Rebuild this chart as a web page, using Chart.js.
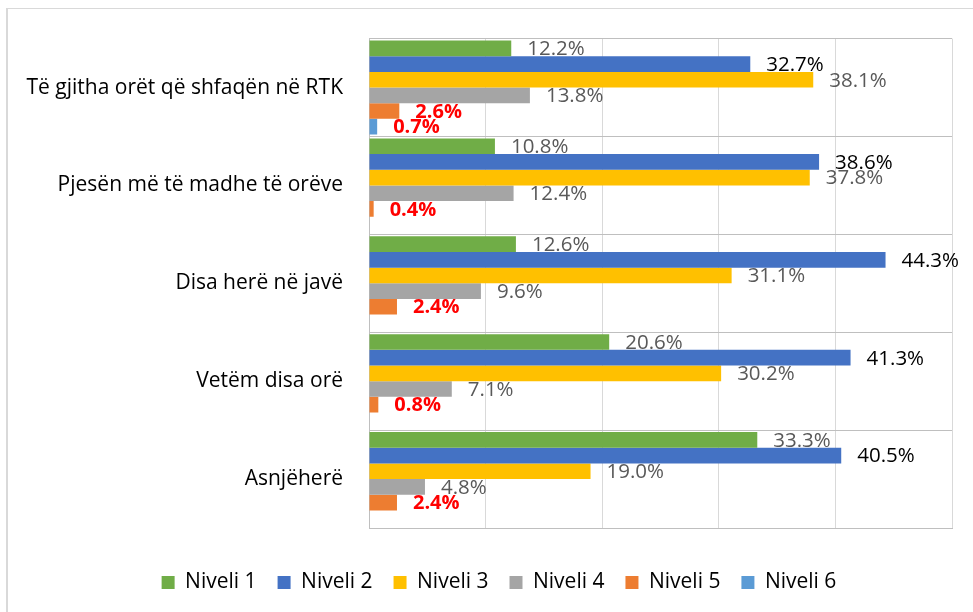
<!DOCTYPE html>
<html>
<head>
<meta charset="utf-8">
<script src="https://cdn.jsdelivr.net/npm/chart.js@4"></script>
<style>
  body { margin: 0; background: #fff; }
  #wrap { position: relative; width: 973px; height: 612px; overflow: hidden; }
  #frame { position: absolute; left: 6px; top: 8px; width: 1000px; height: 700px;
           border-left: 2px solid #d9d9d9; border-top: 1px solid #d9d9d9; }
  canvas { position: absolute; left: 0; top: 0; }
</style>
</head>
<body>
<div id="wrap">
  <div id="frame"></div>
  <canvas id="chart" width="973" height="612"></canvas>
</div>
<script>
// ================= DATA =================
const categories = [
  "Të gjitha orët që shfaqën në RTK",
  "Pjesën më të madhe të orëve",
  "Disa herë në javë",
  "Vetëm disa orë",
  "Asnjëherë"
];
const seriesNames = ["Niveli 1", "Niveli 2", "Niveli 3", "Niveli 4", "Niveli 5", "Niveli 6"];
const niveli1 = [12.2, 10.8, 12.6, 20.6, 33.3];
const niveli2 = [32.7, 38.6, 44.3, 41.3, 40.5];
const niveli3 = [38.1, 37.8, 31.1, 30.2, 19.0];
const niveli4 = [13.8, 12.4, 9.6, 7.1, 4.8];
const niveli5 = [2.6, 0.4, 2.4, 0.8, 2.4];
const niveli6 = [0.7, null, null, null, null];
const xMax = 50;
const xStep = 10;

const colors = ["#70ad47", "#4472c4", "#ffc000", "#a5a5a5", "#ed7d31", "#5b9bd5"];
const labelColors = ["#595959", "#000000", "#595959", "#595959", "#ff0000", "#ff0000"];
const labelBold = [false, false, false, false, true, true];

const FONT = "'Open Sans', 'Noto Sans', sans-serif";

// ================= VALUE LABELS =================
const valueLabels = {
  id: "valueLabels",
  afterDatasetsDraw(chart) {
    const ctx = chart.ctx;
    ctx.save();
    ctx.textBaseline = "middle";
    ctx.textAlign = "left";
    chart.data.datasets.forEach((ds, i) => {
      const meta = chart.getDatasetMeta(i);
      ctx.font = labelBold[i] ? "bold 20px " + FONT : "20.5px " + FONT;
      ctx.fillStyle = labelColors[i];
      meta.data.forEach((bar, j) => {
        const v = ds.data[j];
        if (v == null) return;
        ctx.fillText(v.toFixed(1) + "%", bar.x + 16, bar.y + 1);
      });
    });
    ctx.restore();
  }
};

const allSeries = [niveli1, niveli2, niveli3, niveli4, niveli5, niveli6];

new Chart(document.getElementById("chart"), {
  type: "bar",
  data: {
    labels: categories,
    datasets: allSeries.map((d, i) => ({
      label: seriesNames[i],
      data: d,
      backgroundColor: colors[i],
      borderWidth: 0,
      categoryPercentage: 0.96,
      barPercentage: 1
    }))
  },
  options: {
    indexAxis: "y",
    responsive: false,
    animation: false,
    devicePixelRatio: 1,
    layout: { padding: { left: 25, right: 0, top: 36, bottom: 9 } },
    plugins: {
      legend: {
        position: "bottom",
        labels: {
          boxWidth: 13,
          boxHeight: 13,
          padding: 21,
          color: "#000",
          font: { family: FONT, size: 21 }
        }
      },
      tooltip: { enabled: false }
    },
    scales: {
      x: {
        min: 0,
        max: xMax,
        ticks: { display: false, stepSize: xStep },
        grid: { color: "#d9d9d9", drawTicks: false },
        border: { display: true, color: "#bfbfbf" },
        afterFit: s => { s.height = 23; }
      },
      y: {
        grid: { color: "#bfbfbf", drawTicks: false, offset: true },
        border: { color: "#bfbfbf" },
        ticks: { color: "#000", padding: 26, font: { family: FONT, size: 21 } },
        afterFit: s => { s.width = 344; }
      },
      yRight: {
        position: "right",
        type: "category",
        labels: categories,
        grid: { display: false },
        border: { display: false },
        ticks: { display: false },
        afterFit: s => { s.width = 21; }
      }
    }
  },
  plugins: [valueLabels]
});
</script>
</body>
</html>
